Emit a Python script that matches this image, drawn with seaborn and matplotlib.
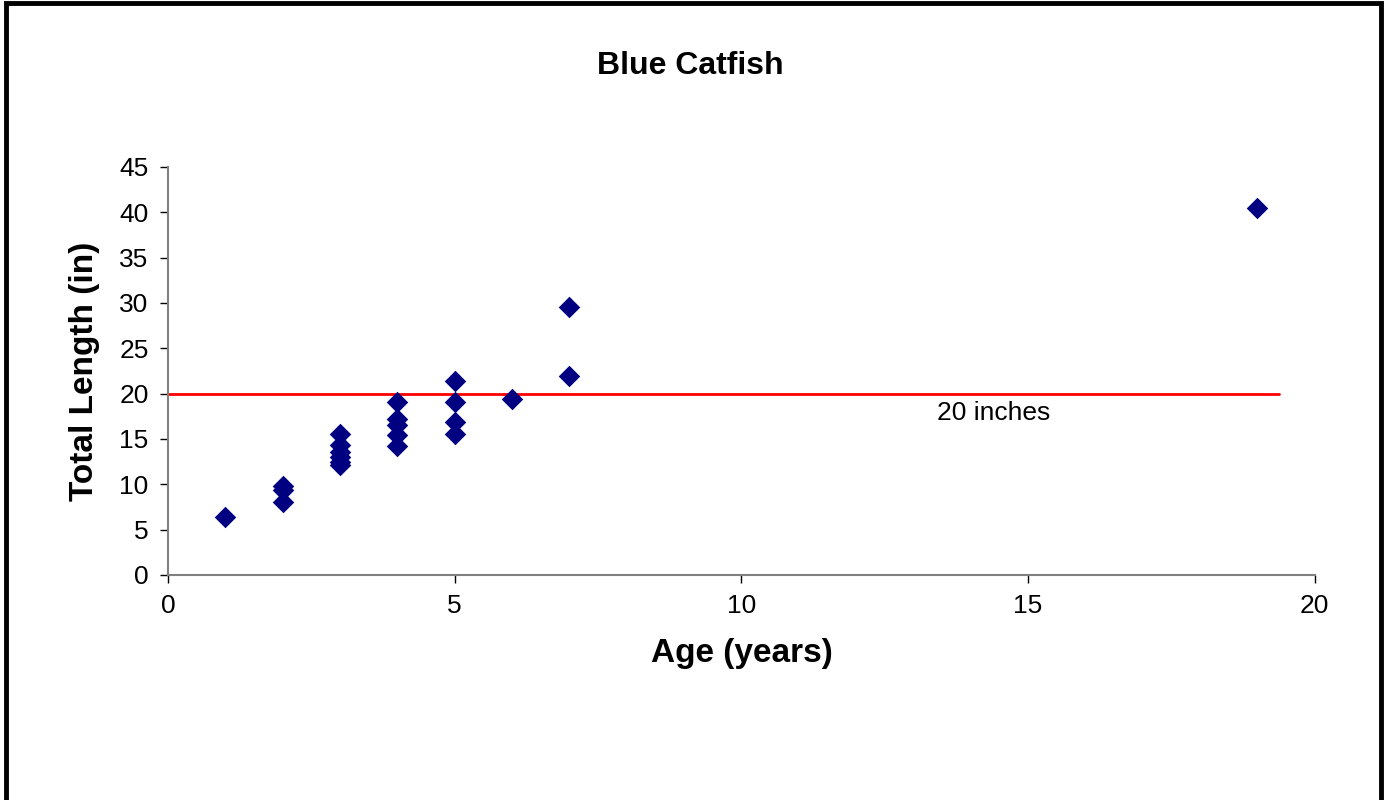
import seaborn as sns
import matplotlib.pyplot as plt
import pandas as pd
from matplotlib.patches import Rectangle

# values
age = [1, 2, 2, 2, 3, 3, 3, 3, 3, 3, 4, 4, 4, 4, 4, 5, 5, 5, 5, 6, 7, 7, 19]
length = [6.4, 9.8, 9.4, 8.0, 15.6, 14.3, 13.6, 13.0, 12.5, 12.1,
          19.1, 17.2, 16.5, 15.4, 14.2, 21.4, 19.1, 16.9, 15.6, 19.4,
          29.6, 22.0, 40.5]
limit = 20
limit_end = 19.37

df = pd.DataFrame({'Age': age, 'Length': length})

sns.set_style('white')
plt.rcParams['font.family'] = ['Liberation Sans', 'DejaVu Sans']
plt.rcParams['text.color'] = 'black'
plt.rcParams['xtick.color'] = 'black'
plt.rcParams['ytick.color'] = 'black'
plt.rcParams['axes.labelcolor'] = 'black'

fig = plt.figure(figsize=(13.84, 8), dpi=100)
ax = fig.add_axes([0.1214, 0.28125, 0.8286, 0.51])

sns.scatterplot(data=df, x='Age', y='Length', marker='D', s=120,
                color='#000080', linewidth=0, ax=ax, zorder=3)
ax.plot([0, limit_end], [limit, limit], color='#ff0000', lw=2, zorder=2)
ax.text(14.4, 17.9, '20 inches', fontsize=19, ha='center', va='center')

ax.set_xlim(0, 20)
ax.set_ylim(0, 45)
ax.set_xticks(range(0, 21, 5))
ax.set_yticks(range(0, 46, 5))
ax.tick_params(labelsize=19, direction='out', length=6, width=1,
               left=True, bottom=True, color='black', pad=8)
for side in ['top', 'right']:
    ax.spines[side].set_visible(False)
for side in ['left', 'bottom']:
    ax.spines[side].set_color('#808080')
    ax.spines[side].set_linewidth(1.5)

ax.set_xlabel('Age (years)', fontsize=24, fontweight='bold', labelpad=14)
ax.set_ylabel('Total Length (in)', fontsize=24, fontweight='bold', labelpad=14)
fig.text(0.4985, 0.918, 'Blue Catfish', fontsize=23, fontweight='bold',
         ha='center', va='center')

# outer frame of the chart
fig.patches.append(Rectangle((0.004, -0.01), 0.994, 1.006, transform=fig.transFigure,
                             fill=False, edgecolor='black', linewidth=3.5))

fig.savefig('out.png', dpi=100)
